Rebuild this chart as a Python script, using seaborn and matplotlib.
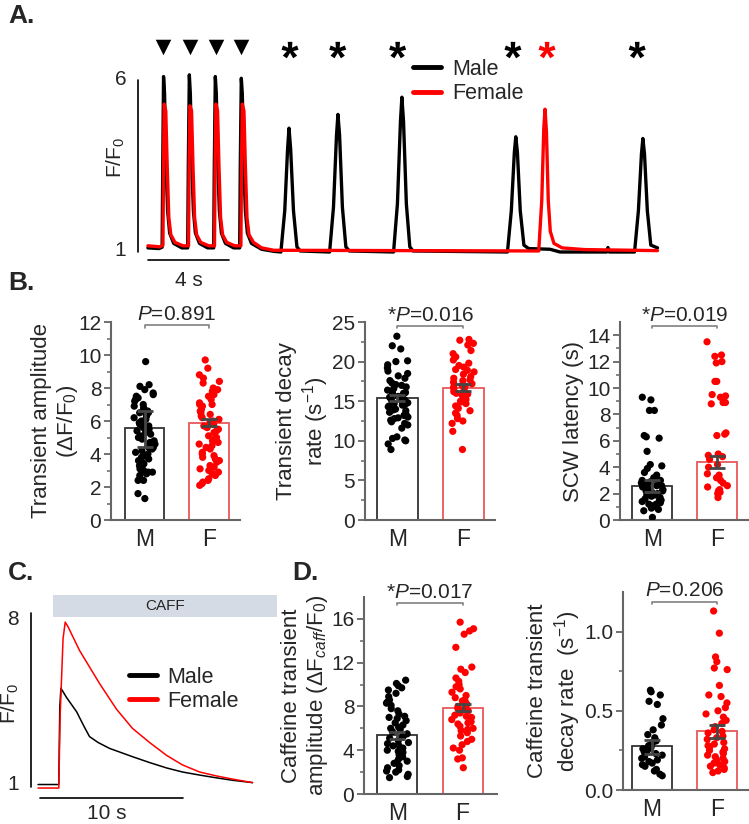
import numpy as np
import pandas as pd
import seaborn as sns
import matplotlib.pyplot as plt
from matplotlib.path import Path
from matplotlib.patches import Rectangle
from matplotlib.textpath import TextPath
from matplotlib.font_manager import FontProperties

W, H = 749, 824
FONT = "Liberation Sans"

# ---------------- data ----------------
# A: spontaneous Ca waves after pacing (time in s, F/F0)
a_male_t = [0.00, 0.55, 0.70, 0.73, 0.77, 0.82, 0.89, 0.97, 1.07, 1.27, 1.67,
            1.96, 1.99, 2.04, 2.09, 2.16, 2.24, 2.34, 2.54, 2.94,
            3.24, 3.27, 3.32, 3.37, 3.44, 3.52, 3.62, 3.82, 4.22,
            4.52, 4.55, 4.60, 4.65, 4.72, 4.80, 4.90, 5.10, 5.60, 6.20,
            6.55, 6.74, 6.88, 6.95, 7.03, 7.17, 7.34, 7.50,
            8.95, 9.14, 9.29, 9.36, 9.44, 9.58, 9.75, 9.92,
            12.10, 12.29, 12.44, 12.51, 12.59, 12.73, 12.90, 13.06,
            17.71, 17.90, 18.05, 18.12, 18.20, 18.34, 18.52, 18.75, 19.80, 20.30,
            22.60, 22.66, 22.72,
            23.97, 24.16, 24.31, 24.38, 24.46, 24.60, 24.77, 25.10]
a_male_v = [1.12, 1.10, 1.14, 3.50, 6.10, 5.60, 3.60, 2.20, 1.55, 1.25, 1.12,
            1.12, 3.50, 6.15, 5.60, 3.60, 2.20, 1.55, 1.25, 1.12,
            1.12, 3.50, 6.10, 5.60, 3.60, 2.20, 1.55, 1.25, 1.12,
            1.12, 3.50, 6.05, 5.60, 3.60, 2.20, 1.55, 1.25, 1.08, 1.02,
            1.00, 2.20, 4.00, 4.60, 4.00, 2.20, 1.15, 1.03,
            1.00, 2.30, 4.40, 5.00, 4.40, 2.30, 1.15, 1.03,
            1.00, 2.40, 4.80, 5.50, 4.80, 2.40, 1.15, 1.03,
            1.00, 2.20, 3.90, 4.35, 3.90, 2.20, 1.20, 1.10, 1.08, 1.00,
            1.00, 1.13, 1.00,
            1.00, 2.20, 3.85, 4.30, 3.85, 2.20, 1.20, 1.12]
a_female_t = [0.00, 0.60, 0.74, 0.77, 0.80, 0.88, 0.95, 1.03, 1.13, 1.33, 1.73,
              2.00, 2.03, 2.07, 2.15, 2.22, 2.30, 2.40, 2.60, 3.00,
              3.28, 3.31, 3.35, 3.43, 3.50, 3.58, 3.68, 3.88, 4.28,
              4.58, 4.61, 4.65, 4.73, 4.80, 4.88, 4.98, 5.20, 5.60, 6.20,
              19.25, 19.40, 19.50, 19.56, 19.63, 19.72, 19.82, 20.00, 20.40, 21.50, 25.10]
a_female_v = [1.18, 1.15, 1.20, 3.50, 5.30, 5.10, 3.50, 2.00, 1.50, 1.28, 1.18,
              1.18, 3.50, 5.25, 5.10, 3.50, 2.00, 1.50, 1.28, 1.18,
              1.18, 3.50, 5.30, 5.10, 3.50, 2.00, 1.50, 1.28, 1.18,
              1.18, 3.50, 5.30, 5.10, 3.50, 2.00, 1.50, 1.28, 1.12, 1.05,
              1.03, 2.50, 4.60, 5.15, 4.50, 2.50, 1.60, 1.25, 1.12, 1.07, 1.04]
stim_times = [0.75, 2.05, 3.35, 4.60]
wave_times = [7.00, 9.35, 12.30, 17.98, 19.66, 24.10]
wave_sex = ["Male", "Male", "Male", "Male", "Female", "Male"]

# B: per-cell values
amp_m = [9.6, 8.2, 8.1, 7.9, 7.7, 7.6, 7.5, 7.4, 7.2, 7.0, 6.9, 6.8, 6.6, 6.5,
         6.5, 6.3, 6.2, 6.1, 5.9, 5.8, 5.8, 5.7, 5.6, 5.4, 5.3, 5.2, 5.1, 5.0,
         4.9, 4.8, 4.6, 4.5, 4.4, 4.3, 4.2, 4.1, 4.0, 3.9, 3.8, 3.6, 3.5, 3.4,
         3.3, 3.1, 3.0, 2.9, 2.8, 2.7, 2.5, 2.4, 2.4, 1.6, 1.3,
         7.3, 6.7, 6.0, 5.5, 4.7, 4.4, 3.7, 3.2, 2.9, 5.0, 6.4]
amp_f = [9.7, 9.2, 8.8, 8.6, 8.4, 8.3, 8.0, 7.8, 7.6, 7.5, 7.3, 7.1, 7.0, 6.9,
         6.7, 6.6, 6.5, 6.4, 6.2, 6.1, 6.0, 5.9, 5.8, 5.7, 5.5, 5.4, 5.3, 5.1,
         5.0, 4.9, 4.8, 4.7, 4.5, 4.4, 4.3, 4.1, 4.0, 3.9, 3.7, 3.6, 3.5, 3.3,
         3.1, 3.0, 2.9, 2.7, 2.5, 2.4, 2.3, 2.2, 2.1,
         7.9, 7.0, 6.3, 5.6, 4.6, 3.8, 3.2, 2.8]
decay_m = [23.2, 22.0, 21.6, 20.1, 20.0, 19.6, 19.2, 18.8, 18.5, 18.2, 17.9,
           17.6, 17.3, 17.0, 16.8, 16.6, 16.4, 16.1, 15.9, 15.7, 15.5, 15.3,
           15.1, 14.9, 14.7, 14.5, 14.4, 14.2, 14.0, 13.8, 13.6, 13.4, 13.2,
           13.0, 12.8, 12.6, 12.4, 12.2, 12.0, 11.6, 10.5, 10.3, 10.1, 10.0,
           9.6, 8.9, 15.0, 14.6, 13.9, 16.2, 17.1, 15.6, 14.3, 13.3, 12.9,
           16.0, 15.2, 14.8]
decay_f = [22.8, 22.7, 22.3, 22.1, 21.4, 21.0, 20.2, 19.8, 19.5, 19.3, 19.0,
           18.7, 18.4, 18.1, 17.9, 17.6, 17.4, 17.2, 17.0, 16.8, 16.6, 16.4,
           16.2, 16.0, 15.8, 15.6, 15.4, 15.2, 15.0, 14.7, 14.4, 14.1, 13.8,
           13.5, 13.2, 12.8, 12.5, 12.2, 11.2, 8.9, 20.6, 18.9, 17.7, 16.9,
           15.9, 14.9]
scw_m = [9.3, 9.1, 8.3, 8.3, 6.4, 6.3, 6.2, 5.2, 4.2, 4.1, 3.9, 3.6, 3.4, 3.2,
         3.1, 3.0, 2.9, 2.8, 2.7, 2.6, 2.5, 2.4, 2.3, 2.2, 2.1, 2.0, 1.9, 1.8,
         1.7, 1.6, 1.5, 1.4, 1.3, 1.2, 1.1, 1.0, 0.9, 0.8, 0.7, 0.2,
         3.0, 2.6, 2.2, 1.9, 1.5, 1.2]
scw_f = [13.5, 12.5, 12.4, 12.0, 11.9, 10.5, 10.5, 9.5, 9.4, 9.3, 8.9, 8.9,
         8.8, 6.6, 6.5, 6.4, 5.0, 4.9, 4.8, 4.6, 4.2, 4.0, 3.5, 3.4, 3.2, 3.0,
         2.8, 2.6, 2.5, 2.3, 2.2, 2.1, 2.0, 1.7]

# C: caffeine-evoked transients (time in s, F/F0)
c_male_t = [0.0, 1.45, 1.52, 1.60, 2.0, 2.7, 3.2, 3.6, 4.2, 5.0, 6.6, 7.8, 9.0,
            10.1, 11.3, 12.5, 13.6, 15.0]
c_male_v = [1.02, 1.02, 4.3, 5.1, 4.7, 4.1, 3.5, 3.05, 2.8, 2.55, 2.2, 1.95,
            1.72, 1.55, 1.42, 1.3, 1.2, 1.1]
c_female_t = [0.0, 1.45, 1.55, 1.75, 1.90, 2.1, 2.9, 3.6, 4.3, 5.5, 6.6, 7.8,
              9.0, 10.1, 11.3, 12.5, 13.6, 15.0]
c_female_v = [0.87, 0.87, 4.0, 7.2, 7.9, 7.7, 6.7, 6.0, 5.3, 4.2, 3.4, 2.8,
              2.25, 1.85, 1.55, 1.38, 1.25, 1.1]
caff_window = (1.05, 16.7)

# D: caffeine transient amplitude and decay rate
caff_amp_m = [10.4, 10.1, 9.9, 9.7, 9.5, 9.2, 8.9, 8.6, 8.3, 8.1, 7.8, 7.6, 7.3,
              7.1, 6.9, 6.7, 6.5, 6.3, 6.1, 5.9, 5.7, 5.5, 5.3, 5.1, 4.9, 4.7,
              4.6, 4.4, 4.2, 4.0, 3.8, 3.6, 3.4, 3.2, 3.0, 2.8, 2.6, 2.4, 2.2,
              2.0, 1.8, 1.6, 1.5, 8.4, 7.0, 6.0, 5.2, 4.5, 3.9, 2.9, 2.1]
caff_amp_f = [15.7, 15.1, 14.9, 14.6, 13.4, 11.6, 11.4, 11.1, 10.6, 10.3, 10.0,
              9.6, 9.3, 9.0, 8.8, 8.6, 8.4, 8.2, 8.0, 7.8, 7.6, 7.4, 7.2, 7.0,
              6.8, 6.6, 6.4, 6.2, 6.0, 5.8, 5.6, 5.3, 5.0, 4.8, 4.5, 4.2, 4.0,
              3.3, 3.2, 2.4, 9.8, 8.5, 7.7, 7.1, 6.5, 5.9]
caff_rate_m = [0.63, 0.62, 0.60, 0.56, 0.54, 0.45, 0.41, 0.38, 0.35, 0.33, 0.31,
               0.30, 0.28, 0.27, 0.26, 0.25, 0.24, 0.23, 0.22, 0.21, 0.20, 0.19,
               0.18, 0.17, 0.16, 0.15, 0.13, 0.12, 0.10, 0.09]
caff_rate_f = [1.13, 0.99, 0.84, 0.81, 0.77, 0.76, 0.66, 0.60, 0.59, 0.55, 0.52,
               0.50, 0.48, 0.46, 0.44, 0.42, 0.40, 0.38, 0.37, 0.36, 0.34, 0.33,
               0.32, 0.30, 0.29, 0.28, 0.27, 0.26, 0.25, 0.24, 0.23, 0.22, 0.21,
               0.20, 0.19, 0.18, 0.17, 0.16, 0.15, 0.14, 0.13, 0.12, 0.11]

# bar means with error limits (M, F)
amp_mean, amp_lo, amp_hi = [5.55, 5.9], [4.45, 5.7], [6.6, 6.1]
decay_mean, decay_lo, decay_hi = [15.4, 16.7], [15.0, 16.3], [15.8, 17.15]
scw_mean, scw_lo, scw_hi = [2.6, 4.4], [2.15, 3.95], [3.05, 4.85]
camp_mean, camp_lo, camp_hi = [5.35, 7.9], [5.0, 7.55], [5.7, 8.25]
crate_mean, crate_lo, crate_hi = [0.275, 0.37], [0.23, 0.33], [0.315, 0.41]

groups = ["M", "F"]

# ---------------- style ----------------
sns.set_theme(style="ticks")
plt.rcParams["font.family"] = [FONT, "DejaVu Sans"]
plt.rcParams["mathtext.fontset"] = "custom"
plt.rcParams["mathtext.rm"] = FONT
plt.rcParams["mathtext.it"] = FONT + ":italic"
plt.rcParams["mathtext.bf"] = FONT + ":bold"

SEX_COLORS = {"Male": "black", "Female": "red"}
DOT_COLORS = {"M": "black", "F": "red"}
BAR_EDGES = {"M": "#333333", "F": "#e8585a"}
AX_GRAY = "#666666"
TICK_FS, LAB_FS = 15, 16

np.random.seed(3)
fig = plt.figure(figsize=(W / 100, H / 100), dpi=100)


def px_axes(x0, y0, x1, y1):
    return fig.add_axes([x0 / W, 1 - y1 / H, (x1 - x0) / W, (y1 - y0) / H])


def star_path():
    tp = TextPath((0, 0), "*", size=10, prop=FontProperties(family=FONT, weight="bold"))
    v = tp.vertices.copy()
    codes = tp.codes
    real = codes != Path.CLOSEPOLY
    v -= (v[real].min(0) + v[real].max(0)) / 2
    v[~real] = 0
    return Path(v, codes)


def bar_panel(ax, m_vals, f_vals, means, lo, hi, ylim, major, minor, ylabel,
              label_x, ptext, br_y, br_d, xlim):
    sns.barplot(x=groups, y=means, hue=groups, palette=BAR_EDGES, fill=False,
                width=0.615, linewidth=1.3, legend=False, ax=ax, zorder=1)
    df = pd.DataFrame({"sex": ["M"] * len(m_vals) + ["F"] * len(f_vals),
                       "val": m_vals + f_vals})
    sns.stripplot(data=df, x="sex", y="val", hue="sex", order=groups,
                  palette=DOT_COLORS, jitter=0.17, size=5.2, linewidth=0,
                  legend=False, ax=ax, zorder=3)
    ax.errorbar([0, 1], means,
                yerr=[np.subtract(means, lo), np.subtract(hi, means)],
                fmt="none", ecolor="#454545", elinewidth=2, capsize=6,
                capthick=2, zorder=5)
    ax.plot([0, 0, 1, 1], [br_y - br_d, br_y, br_y, br_y - br_d],
            color="#808080", lw=1.2, clip_on=False)
    ax.text(0.5, br_y + br_d * 0.6, ptext, ha="center", va="bottom",
            fontsize=15, clip_on=False)
    ax.set_xlim(*xlim)
    ax.set_ylim(*ylim)
    ax.set_yticks(major)
    ax.set_yticks(minor, minor=True)
    ax.set_xlabel("")
    ax.set_ylabel(ylabel, fontsize=LAB_FS, linespacing=1.15)
    ax.yaxis.set_label_coords(label_x, 0.5)
    ax.tick_params(axis="y", which="major", length=5, width=1.3,
                   color=AX_GRAY, labelsize=TICK_FS, pad=2)
    ax.tick_params(axis="y", which="minor", length=3, width=1.1, color=AX_GRAY)
    ax.tick_params(axis="x", length=0, labelsize=16.5, pad=6)
    sns.despine(ax=ax)
    for s in ("left", "bottom"):
        ax.spines[s].set_color(AX_GRAY)
        ax.spines[s].set_linewidth(1.5)


# ---------------- A ----------------
axA = px_axes(100, 30, 665, 290)
dfA = pd.DataFrame({"t": a_male_t + a_female_t, "F": a_male_v + a_female_v,
                    "sex": ["Male"] * len(a_male_t) + ["Female"] * len(a_female_t)})
sns.lineplot(data=dfA, x="t", y="F", hue="sex", hue_order=["Male", "Female"],
             palette=SEX_COLORS, sort=False, estimator=None, lw=2.4, ax=axA)
axA.scatter(stim_times, [6.96] * len(stim_times), marker="v", s=125,
            color="black", linewidths=0, clip_on=False)
axA.scatter(wave_times, [6.87] * len(wave_times), marker=star_path(), s=150,
            c=[SEX_COLORS[s] for s in wave_sex], linewidths=0, clip_on=False)
axA.plot([-0.49, -0.49], [1, 6], color="black", lw=1.2, clip_on=False)
axA.text(-1.35, 6, "6", ha="center", va="center", fontsize=TICK_FS)
axA.text(-1.35, 1.05, "1", ha="center", va="center", fontsize=TICK_FS)
axA.text(-1.6, 3.75, "F/F$_0$", rotation=90, ha="center", va="center", fontsize=TICK_FS)
axA.plot([0, 4], [0.77, 0.77], color="black", lw=1.2, clip_on=False)
axA.text(2.0, 0.16, "4 s", ha="center", va="center", fontsize=TICK_FS)
axA.set_xlim(-2.36, 25.47)
axA.set_ylim(1 + (252 - 290) / 34.4, 1 + (252 - 30) / 34.4)
axA.axis("off")
legA = axA.legend(frameon=False, loc="upper left", bbox_to_anchor=(0.535, 0.93),
                  borderpad=0, handlelength=1.3, handletextpad=0.5,
                  labelspacing=0.15, fontsize=15.5)
for ln in legA.get_lines():
    ln.set_linewidth(3.5)

# ---------------- B ----------------
axB1 = px_axes(111, 322, 240, 520)
bar_panel(axB1, amp_m, amp_f, amp_mean, amp_lo, amp_hi, (0, 12),
          range(0, 13, 2), range(1, 12, 2),
          "Transient amplitude\n(ΔF/F$_0$)", -0.24,
          "$\\it{P}$=0.891", 11.8, 0.15, (-0.52, 1.48))
axB2 = px_axes(365, 322, 495, 520)
bar_panel(axB2, decay_m, decay_f, decay_mean, decay_lo, decay_hi, (0, 25),
          range(0, 26, 5), np.arange(2.5, 25, 5),
          "Transient decay\nrate (s$^{-1}$)", -0.26,
          "*$\\it{P}$=0.016", 24.5, 0.3, (-0.49, 1.48))
axB3 = px_axes(620, 322, 749, 520)
bar_panel(axB3, scw_m, scw_f, scw_mean, scw_lo, scw_hi, (0, 15),
          range(0, 15, 2), range(1, 15, 2),
          "SCW latency (s)", -0.28,
          "*$\\it{P}$=0.019", 14.7, 0.18, (-0.5, 1.5))

# ---------------- C ----------------
axC = px_axes(5, 590, 280, 830)
dfC = pd.DataFrame({"t": c_male_t + c_female_t, "F": c_male_v + c_female_v,
                    "sex": ["Male"] * len(c_male_t) + ["Female"] * len(c_female_t)})
sns.lineplot(data=dfC, x="t", y="F", hue="sex", hue_order=["Male", "Female"],
             palette=SEX_COLORS, sort=False, estimator=None, lw=1.1, ax=axC)
axC.add_patch(Rectangle((caff_window[0], 8.12), caff_window[1] - caff_window[0],
                        0.93, color="#d5dbe5", lw=0, clip_on=False))
axC.text(sum(caff_window) / 2, 8.58, "CAFF", ha="center", va="center", fontsize=11)
axC.plot([-0.49, -0.49], [0.92, 8.3], color="black", lw=1.2, clip_on=False)
axC.text(-1.75, 8.0, "8", ha="center", va="center", fontsize=TICK_FS)
axC.text(-1.75, 1.0, "1", ha="center", va="center", fontsize=TICK_FS)
axC.text(-1.95, 4.47, "F/F$_0$", rotation=90, ha="center", va="center", fontsize=TICK_FS)
axC.plot([0.14, 10.14], [0.45, 0.45], color="black", lw=1.2, clip_on=False)
axC.text(4.8, -0.2, "10 s", ha="center", va="center", fontsize=TICK_FS)
axC.set_xlim(-2.31, 16.92)
axC.set_ylim(-0.907, 9.26)
axC.axis("off")
legC = axC.legend(frameon=False, loc="upper left", bbox_to_anchor=(0.41, 0.725),
                  borderpad=0, handlelength=1.3, handletextpad=0.5,
                  labelspacing=0.15, fontsize=15.5)
for ln in legC.get_lines():
    ln.set_linewidth(3.5)

# ---------------- D ----------------
axD1 = px_axes(364, 597, 497, 794)
bar_panel(axD1, caff_amp_m, caff_amp_f, camp_mean, camp_lo, camp_hi, (0, 18),
          range(0, 17, 4), range(2, 18, 4),
          "Caffeine transient\namplitude (ΔF$_{caff}$/F$_0$)", -0.255,
          "*$\\it{P}$=0.017", 17.45, 0.22, (-0.515, 1.53))
axD2 = px_axes(623, 592, 749, 790)
bar_panel(axD2, caff_rate_m, caff_rate_f, crate_mean, crate_lo, crate_hi, (0, 1.25),
          [0.0, 0.5, 1.0], [0.25, 0.75], "Caffeine transient\ndecay rate  (s$^{-1}$)",
          -0.32, "$\\it{P}$=0.206", 1.19, 0.015, (-0.45, 1.5))
axD2.yaxis.set_major_formatter(plt.FormatStrFormatter("%.1f"))

# ---------------- panel letters ----------------
for lab, (x, y) in {"A.": (8, 16), "B.": (8, 283), "C.": (8, 573), "D.": (292, 573)}.items():
    fig.text(x / W, 1 - y / H, lab, fontsize=19, fontweight="bold",
             ha="left", va="center")

fig.savefig("out.png", dpi=100)
